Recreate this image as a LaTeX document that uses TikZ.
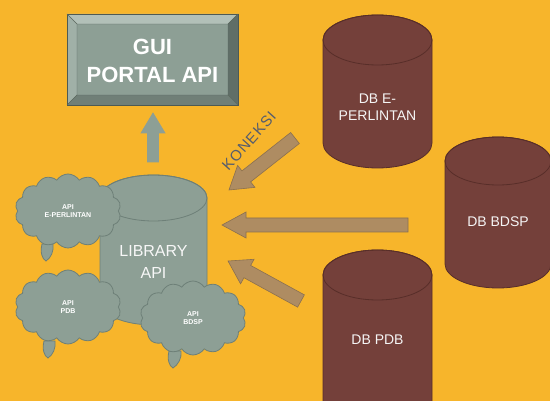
\documentclass[tikz,border=0pt]{standalone}
\usepackage{fontspec}
\setmainfont{Liberation Sans}
\newfontfamily\konfont[LetterSpace=6]{Liberation Sans}
\usetikzlibrary{calc,shapes.symbols}
\definecolor{bgc}{RGB}{247,181,43}
\definecolor{gface}{RGB}{141,159,149}
\definecolor{gline}{RGB}{110,128,120}
\definecolor{gtop}{RGB}{178,192,184}
\definecolor{gleft}{RGB}{160,176,167}
\definecolor{gright}{RGB}{96,110,103}
\definecolor{gbot}{RGB}{112,127,119}
\definecolor{brn}{RGB}{116,64,58}
\definecolor{brnline}{RGB}{88,46,41}
\definecolor{tan}{RGB}{174,140,98}
\definecolor{tanline}{RGB}{138,112,80}
\definecolor{kon}{RGB}{84,92,110}
\newcommand\blockarr[6]{%
  \path ($(#2)!#5!(#1)$) coordinate (hb);
  \filldraw[#6] ($(#1)!#3!90:(#2)$) -- ($(hb)!#3!90:(#2)$) -- ($(hb)!#4!90:(#2)$) -- (#2)
    -- ($(hb)!#4!-90:(#2)$) -- ($(hb)!#3!-90:(#2)$) -- ($(#1)!#3!-90:(#2)$) -- cycle;}
% cylinder: cx, rx, top cy, bottom cy, ry, fill, line
\newcommand\cylin[7]{%
  \filldraw[fill=#6,draw=#7,line width=0.8pt] (#1-#2,#3) -- (#1-#2,#4)
    arc[start angle=180,end angle=360,x radius=#2pt,y radius=#5pt] -- (#1+#2,#3)
    arc[start angle=0,end angle=180,x radius=#2pt,y radius=#5pt] -- cycle;
  \draw[draw=#7,line width=0.8pt] (#1,#3) ellipse[x radius=#2pt,y radius=#5pt];}
\tikzset{
  tanarrow/.style={fill=tan,draw=tanline,line width=0.6pt},
  grayarrow/.style={fill=gface,draw=gface,line width=0.6pt},
  apicloud/.style={cloud,cloud puffs=14,cloud puff arc=115,fill=gface,draw=gline,line width=0.8pt,
    minimum width=106pt,minimum height=74pt,inner sep=0pt},
  cloudtxt/.style={font=\bfseries\fontsize{7}{8}\selectfont,text=white,align=center},
  tailsty/.style={fill=gface,draw=gline,line width=0.8pt},
  dbtxt/.style={font=\fontsize{14}{17}\selectfont,text=white!92!gray,align=center},
}
\begin{document}
\begin{tikzpicture}[x=1pt,y=-1pt]
\useasboundingbox (0,0) rectangle (550,401);
\fill[bgc] (0,0) rectangle (550,401);

% GUI bevel box
\fill[gtop] (67,14) -- (238,14) -- (228,24) -- (77,24) -- cycle;
\fill[gleft] (67,14) -- (77,24) -- (77,95) -- (67,105) -- cycle;
\fill[gright] (238,14) -- (238,105) -- (228,95) -- (228,24) -- cycle;
\fill[gbot] (67,105) -- (77,95) -- (228,95) -- (238,105) -- cycle;
\fill[gface] (77,24) rectangle (228,95);
\draw[gline!70!black,line width=0.6pt] (67,14) rectangle (238,105);
\draw[gline!80!black,line width=0.4pt] (77,24) rectangle (228,95) (67,14)--(77,24) (238,14)--(228,24) (67,105)--(77,95) (238,105)--(228,95);
\node[font=\bfseries\fontsize{22}{28}\selectfont,text=white,align=center] (gui) at (152.5,61) {GUI\\PORTAL API};

% up arrow
\coordinate (upT) at (153,162);
\coordinate (upP) at (153,113);
\blockarr{upT}{upP}{5.5pt}{12pt}{20pt}{grayarrow}

% Library cylinder
\cylin{153.5}{53.5}{198}{302}{23}{gface}{gline}
\node[font=\fontsize{16}{22}\selectfont,text=white!94!gray,align=center] (lib) at (153.5,262) {LIBRARY\\API};

% cloud tails
\filldraw[tailsty] (42,244) .. controls (40,252) and (42,259) .. (46,261) .. controls (51,258) and (54,251) .. (53,244) -- cycle;
\filldraw[tailsty] (44,341) .. controls (42,349) and (44,356) .. (48,358) .. controls (53,355) and (56,348) .. (55,341) -- cycle;
\filldraw[tailsty] (169,351) .. controls (167,359) and (169,366) .. (173,368) .. controls (178,365) and (182,358) .. (181,351) -- cycle;

% clouds
\node[apicloud] (cE) at (68,211) {};
\node[cloudtxt] at (cE) {API\\E-PERLINTAN};
\node[apicloud] (cP) at (68,307) {};
\node[cloudtxt] at (cP) {API\\PDB};
\node[apicloud] (cB) at (193,318) {};
\node[cloudtxt] at (cB) {API\\BDSP};

% DB cylinders
\cylin{377.5}{54.5}{40}{143}{25}{brn}{brnline}
\node[dbtxt] (dbE) at (377.5,107) {DB E-\\PERLINTAN};
\cylin{498}{53}{161}{264}{24}{brn}{brnline}
\node[dbtxt] (dbB) at (498,222) {DB BDSP};
\cylin{377.5}{54.5}{275}{420}{25}{brn}{brnline}
\node[dbtxt] (dbP) at (377.5,340) {DB PDB};

% connection arrows
\coordinate (a1T) at (295,138);
\coordinate (a1P) at (229,190);
\blockarr{a1T}{a1P}{7pt}{14pt}{22pt}{tanarrow}
\coordinate (a2T) at (408,225);
\coordinate (a2P) at (222,225);
\blockarr{a2T}{a2P}{7pt}{13pt}{24pt}{tanarrow}
\coordinate (a3T) at (301,301);
\coordinate (a3P) at (228,261);
\blockarr{a3T}{a3P}{7pt}{14pt}{22pt}{tanarrow}

\node[font=\konfont\fontsize{15}{16}\selectfont,text=kon,rotate=48] (kon) at (249,141) {KONEKSI};
\end{tikzpicture}
\end{document}
